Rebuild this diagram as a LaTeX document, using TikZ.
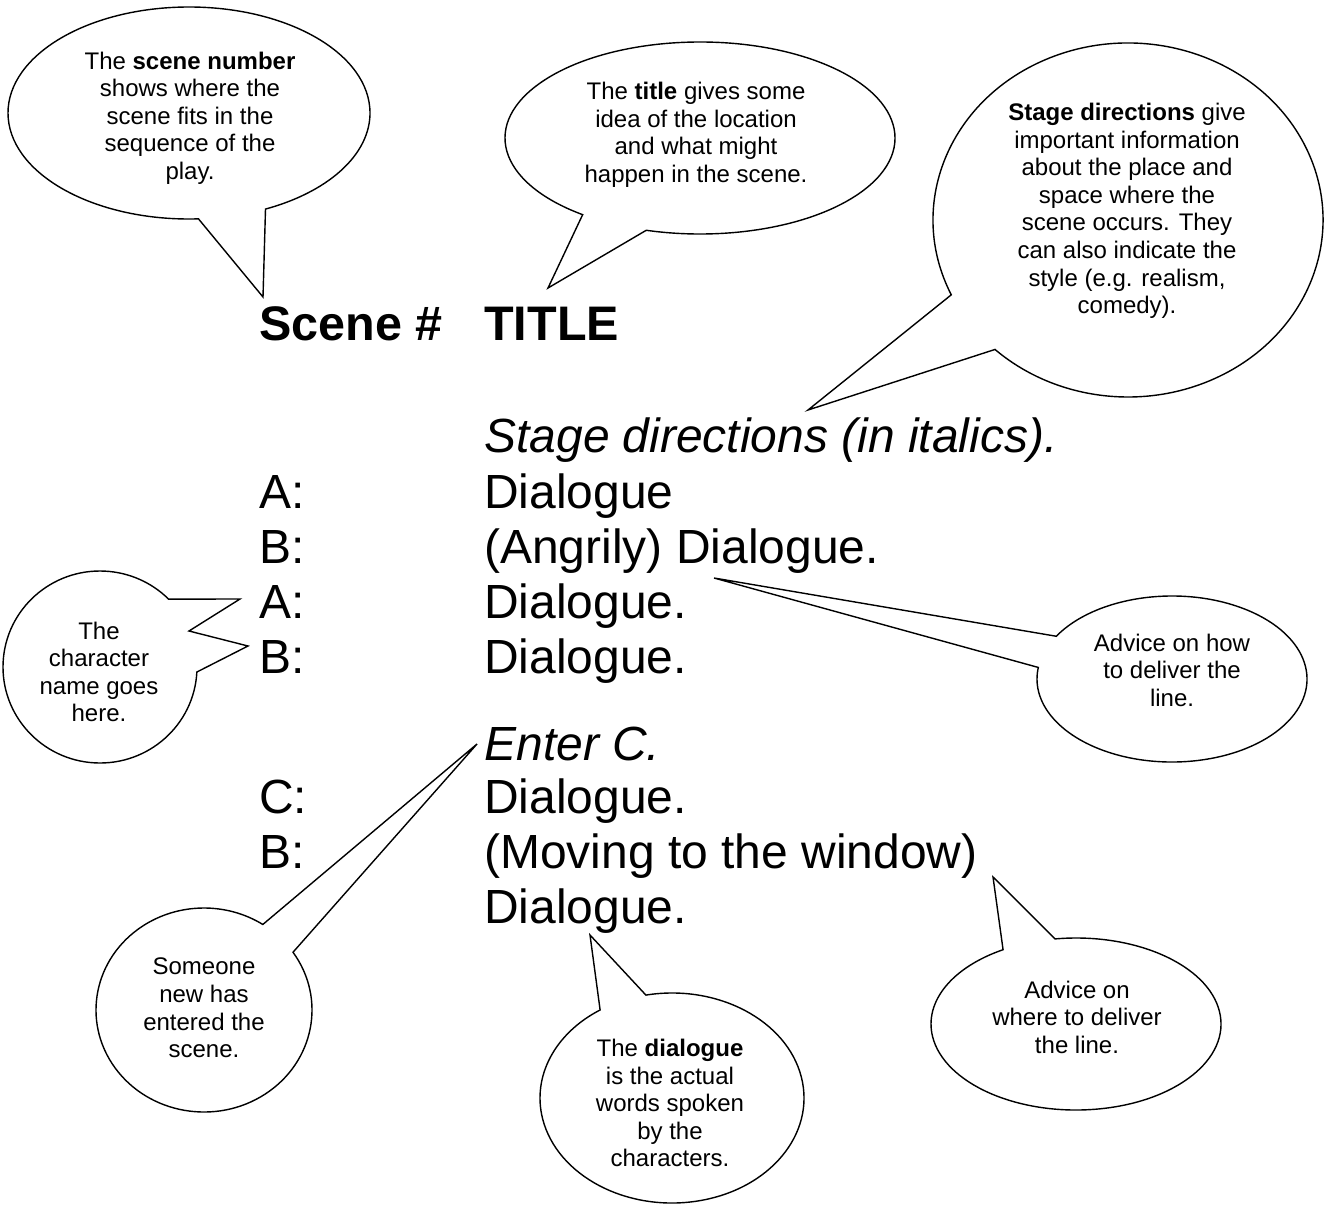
\documentclass[tikz,border=0pt]{standalone}
\usepackage{fontspec}
\setmainfont{Liberation Sans}
\usetikzlibrary{calc}

\begin{document}
\begin{tikzpicture}[x=0.02cm,y=-0.02cm,
  script/.style={anchor=base west,inner sep=0pt,font=\fontsize{27.3}{30}\selectfont},
  head/.style={script,font=\fontsize{27.6}{30}\selectfont\bfseries},
  stagedir/.style={script,font=\fontsize{27.3}{30}\selectfont\itshape},
  note/.style={align=center,inner sep=0pt,font=\fontsize{13.66}{15.7}\selectfont},
  bubble/.style={draw=black,fill=white,line width=0.8pt,line join=miter}]
\useasboundingbox (0,0) rectangle (1327,1206);
% bubble centres and pointer tips
\coordinate (numc) at (189,113);
\coordinate (numtip) at (263,297);
\coordinate (ttlc) at (700,138);
\coordinate (ttltip) at (548,288);
\coordinate (dirc) at (1128,220);
\coordinate (dirtip) at (808,410);
\coordinate (namec) at (100,667);
\coordinate (nametipa) at (240,599);
\coordinate (namenotch) at (189,631);
\coordinate (nametipb) at (248,646);
\coordinate (howc) at (1172,679);
\coordinate (howtip) at (714,578);
\coordinate (entc) at (204,1010);
\coordinate (enttip) at (477,744);
\coordinate (dialc) at (672,1098);
\coordinate (dialtip) at (590,935);
\coordinate (wherec) at (1076,1024);
\coordinate (wheretip) at (993,877);
% speech bubbles
\draw[bubble] (numtip) -- ($(numc)+(87:181 and 106)$) arc[start angle=87,end angle=425,x radius=181,y radius=106] -- cycle;
\draw[bubble] (ttltip) -- ($(ttlc)+(127:195 and 96)$) arc[start angle=127,end angle=466,x radius=195,y radius=96] -- cycle;
\draw[bubble] (dirtip) -- ($(dirc)+(155:195 and 177)$) arc[start angle=155,end angle=493,x radius=195,y radius=177] -- cycle;
\draw[bubble] ($(namec)+(3:97 and 96)$) arc[start angle=3,end angle=315,x radius=97,y radius=96] -- (nametipa) -- (namenotch) -- (nametipb) -- cycle;
\draw[bubble] (howtip) -- ($(howc)+(211:135 and 83)$) arc[start angle=211,end angle=548,x radius=135,y radius=83] -- cycle;
\draw[bubble] (enttip) -- ($(entc)+(325.5:108 and 102)$) arc[start angle=325.5,end angle=663,x radius=108,y radius=102] -- cycle;
\draw[bubble] (dialtip) -- ($(dialc)+(258.6:132 and 105)$) arc[start angle=258.6,end angle=597,x radius=132,y radius=105] -- cycle;
\draw[bubble] (wheretip) -- ($(wherec)+(261.7:145 and 86)$) arc[start angle=261.7,end angle=599.8,x radius=145,y radius=86] -- cycle;
% bubble texts
\node[note] (numnote) at (190,118) {The \textbf{scene number}\\shows where the\\scene fits in the\\sequence of the\\play.};
\node[note] (ttlnote) at (696,135) {The \textbf{title} gives some\\idea of the location\\and what might\\happen in the scene.};
\node[note] (dirnote) at (1127,211) {\textbf{Stage directions} give\\important information\\about the place and\\space where the\\scene occurs. They\\can also indicate the\\style (e.g. realism,\\comedy).};
\node[note] (namenote) at (99,672) {The\\character\\name goes\\here.};
\node[note] (hownote) at (1172,670) {Advice on how\\to deliver the\\line.};
\node[note] (entnote) at (204,1008) {Someone\\new has\\entered the\\scene.};
\node[note] (dialnote) at (670,1103) {The \textbf{dialogue}\\is the actual\\words spoken\\by the\\characters.};
\node[note] (wherenote) at (1077,1017) {Advice on\\where to deliver\\the line.};
% the scene
\node[head] (scenenum) at (259,340) {Scene \#};
\node[head] (scenettl) at (484,340) {TITLE};
\node[stagedir] (dir1) at (484,452) {Stage directions (in italics).};
\node[script] (who1) at (259,508) {A:};
\node[script] (say1) at (484,508) {Dialogue};
\node[script] (who2) at (259,563) {B:};
\node[script] (say2) at (484,563) {(Angrily) Dialogue.};
\node[script] (who3) at (259,618) {A:};
\node[script] (say3) at (484,618) {Dialogue.};
\node[script] (who4) at (259,673) {B:};
\node[script] (say4) at (484,673) {Dialogue.};
\node[stagedir] (dir2) at (484,760) {Enter C.};
\node[script] (who5) at (259,813) {C:};
\node[script] (say5) at (484,813) {Dialogue.};
\node[script] (who6) at (259,868) {B:};
\node[script] (say6) at (484,868) {(Moving to the window)};
\node[script] (say7) at (484,923) {Dialogue.};
\end{tikzpicture}
\end{document}
